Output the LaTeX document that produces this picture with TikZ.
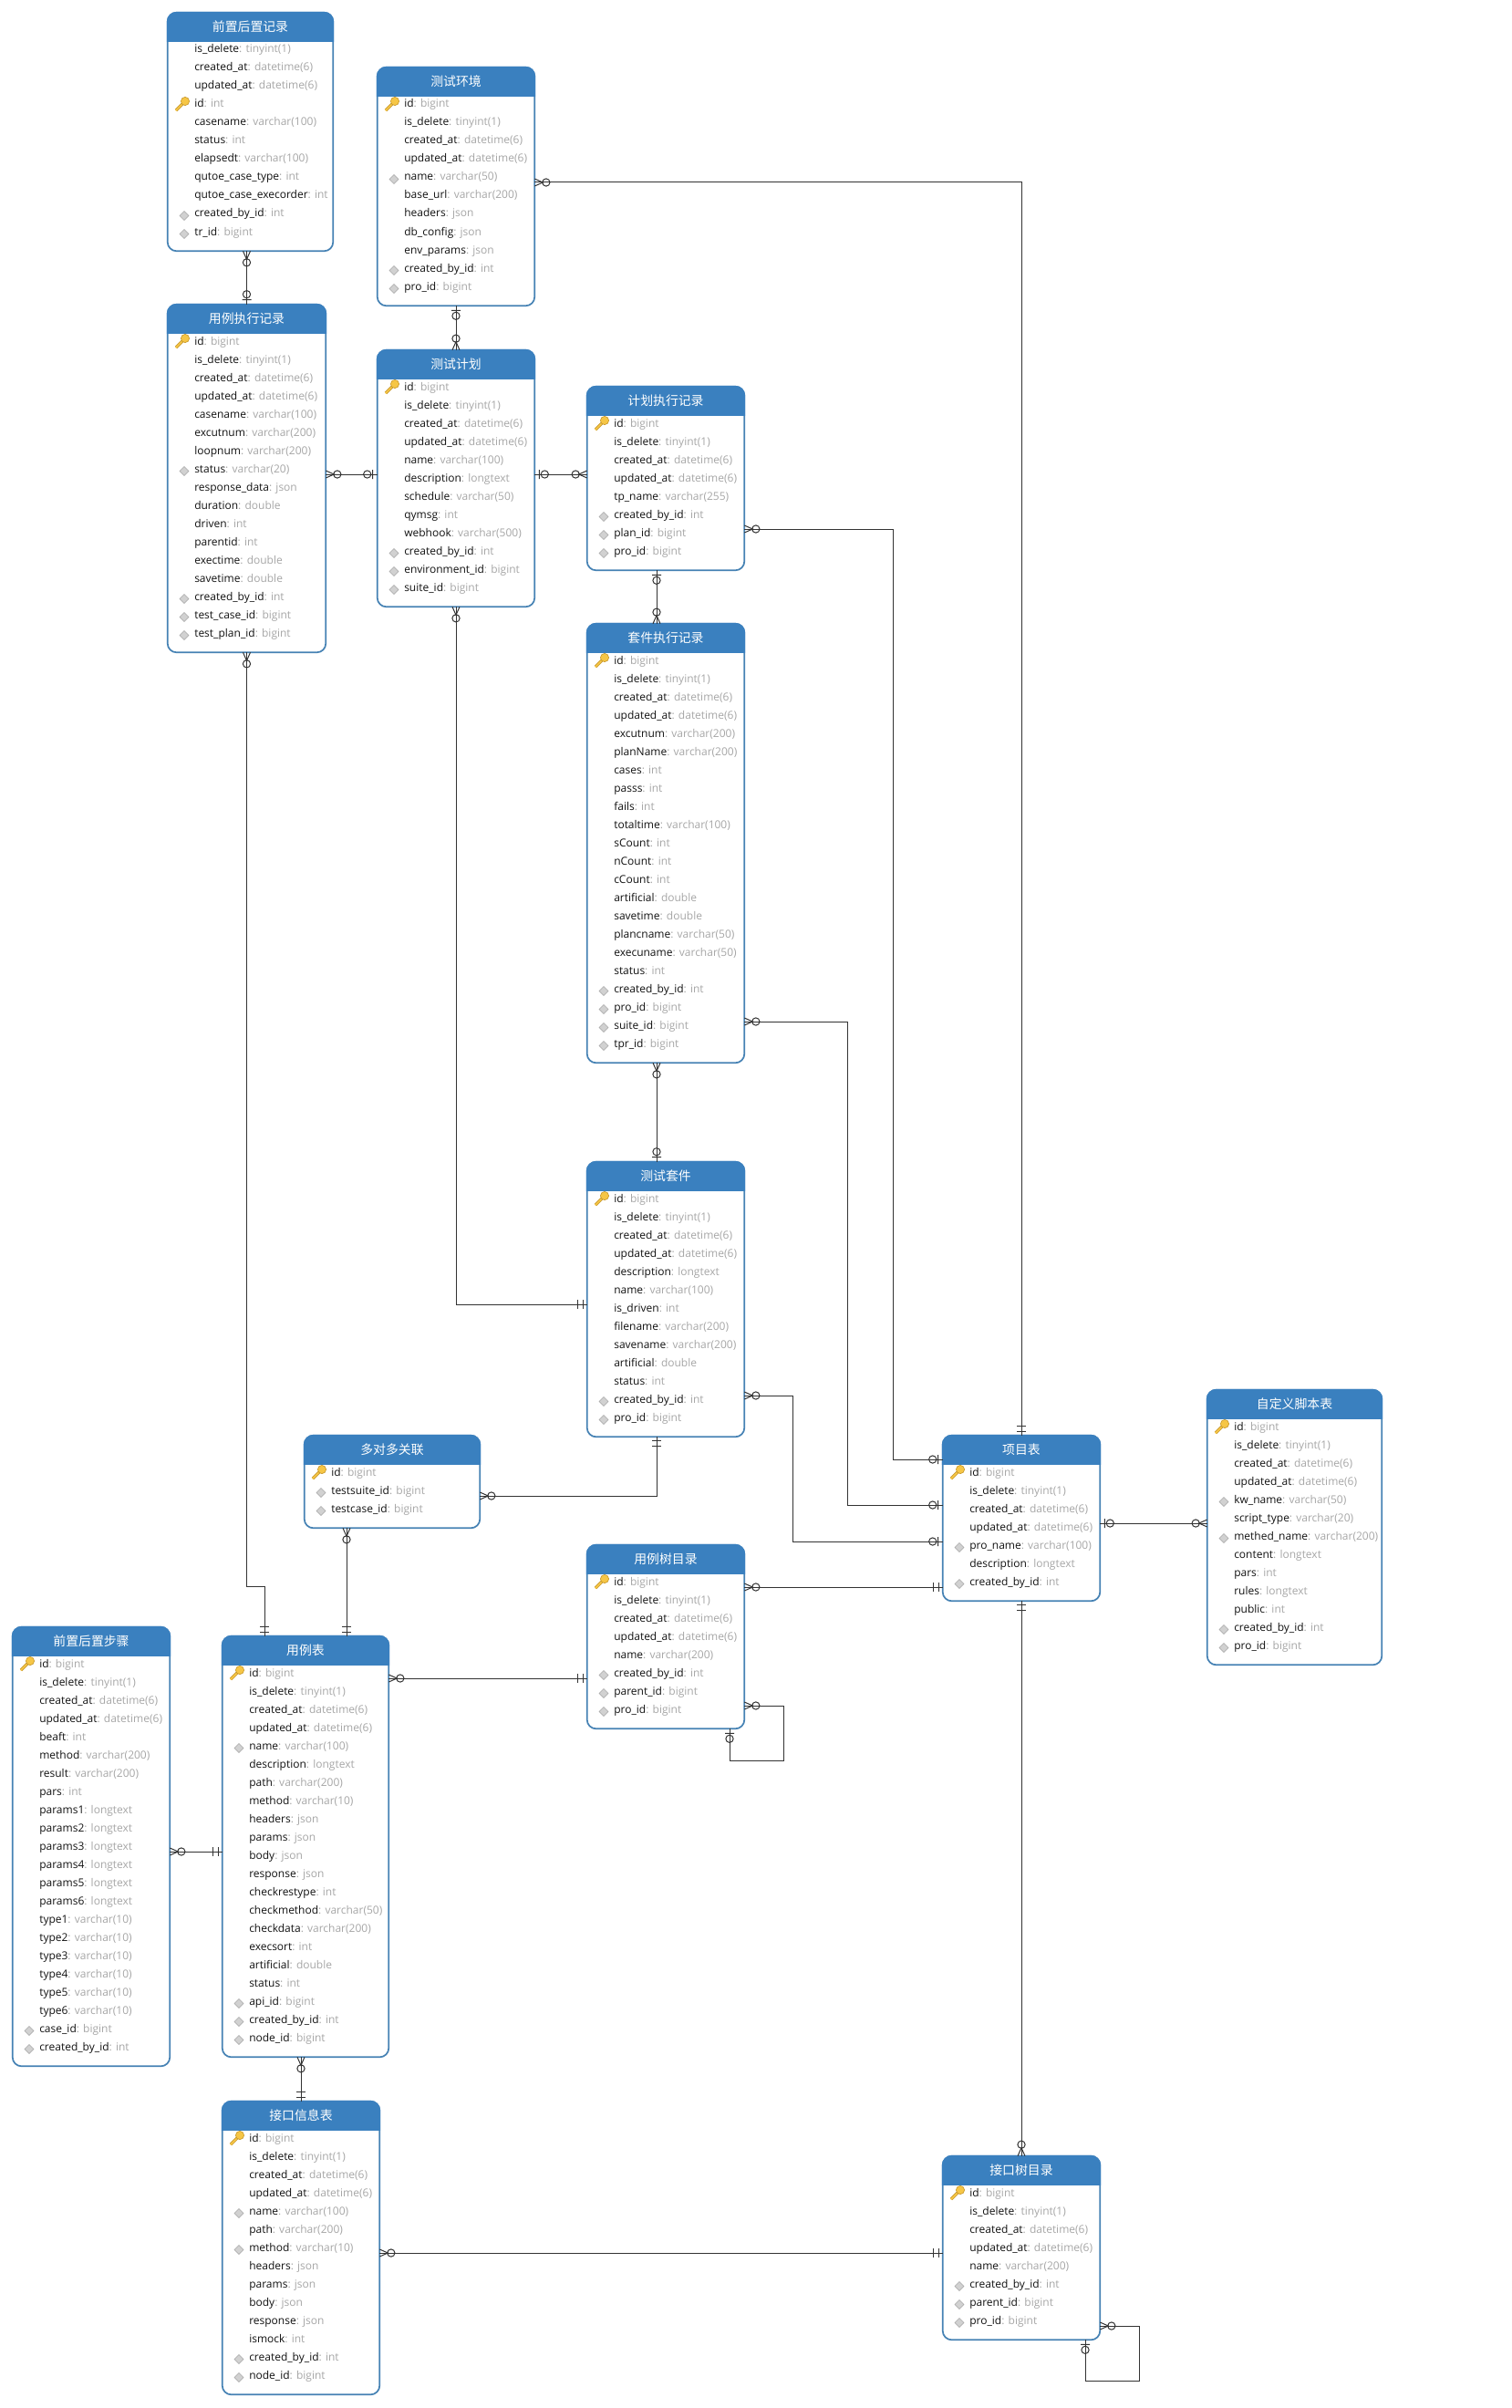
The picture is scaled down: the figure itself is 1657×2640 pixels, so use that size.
\documentclass[tikz,border=0pt]{standalone}
\usepackage{fontspec}
\usepackage{xcolor}
\usepackage{tikz}
\usetikzlibrary{calc}
\setmainfont{Open Sans}
\newfontfamily\cjk{Noto Sans CJK SC}
\definecolor{headcol}{HTML}{3A80BF}
\definecolor{bordercol}{HTML}{4682B4}
\definecolor{typecol}{HTML}{A6A6A6}
\definecolor{fieldcol}{HTML}{111111}
\definecolor{linecol}{HTML}{333333}
\definecolor{keygold}{HTML}{F6C646}
\definecolor{keyedge}{HTML}{C99A2E}

% crow's foot ends, tip on the table border
\pgfdeclarearrow{
    name=zmany,
    setup code={\pgfarrowssettipend{0pt}\pgfarrowssetlineend{0pt}\pgfarrowssetbackend{-13pt}},
    drawing code={
        \pgfpathmoveto{\pgfpoint{0pt}{3pt}}
        \pgfpathlineto{\pgfpoint{-6.75pt}{0pt}}
        \pgfpathlineto{\pgfpoint{0pt}{-3pt}}
        \pgfpathcircle{\pgfpoint{-9.4pt}{0pt}}{3.1pt}
        \pgfusepathqstroke
    }
}
\pgfdeclarearrow{
    name=zone,
    setup code={\pgfarrowssettipend{0pt}\pgfarrowssetlineend{0pt}\pgfarrowssetbackend{-12pt}},
    drawing code={
        \pgfpathmoveto{\pgfpoint{-3.75pt}{3.75pt}}
        \pgfpathlineto{\pgfpoint{-3.75pt}{-3.75pt}}
        \pgfpathcircle{\pgfpoint{-8.25pt}{0pt}}{3.1pt}
        \pgfusepathqstroke
    }
}
\pgfdeclarearrow{
    name=oneone,
    setup code={\pgfarrowssettipend{0pt}\pgfarrowssetlineend{0pt}\pgfarrowssetbackend{-9pt}},
    drawing code={
        \pgfpathmoveto{\pgfpoint{-3.2pt}{3.75pt}}
        \pgfpathlineto{\pgfpoint{-3.2pt}{-3.75pt}}
        \pgfpathmoveto{\pgfpoint{-8pt}{3.75pt}}
        \pgfpathlineto{\pgfpoint{-8pt}{-3.75pt}}
        \pgfusepathqstroke
    }
}

% name, x, y, width, number of rows, title, rows
\newcommand{\ertable}[7]{
    \node (#1) [tablebox,minimum width={(#4-1.4)*0.75pt},minimum height={(41.6+20*#5)*0.75pt}] at (#2+0.7,#3+0.7) {};
    \filldraw[headcol,line width=1.3pt] (#2+0.7,#3+32) [rounded corners=7.5pt] -- (#2+0.7,#3+0.7) -- (#2+#4-0.7,#3+0.7) [sharp corners] -- (#2+#4-0.7,#3+32) -- cycle;
    \node (#1-title) [tabletitle] at ($(#1.north)+(0,15.5)$) {#6};
    \foreach \fname/\ftype/\fmark [count=\i] in {#7} {
        \pic at (#2+16,#3+21+20*\i) {mk\fmark};
        \node (#1-\i) [fieldrow] at (#2+30,#3+25+20*\i) {\fname\textcolor{typecol}{: \ftype}};
    }
}

\begin{document}
\begin{tikzpicture}[
    x=0.75pt,y=-0.75pt,
    tablebox/.style={draw=bordercol,line width=1.3pt,rounded corners=7.5pt,anchor=north west,inner sep=0pt,outer sep=0pt},
    tabletitle/.style={text=white,inner sep=0pt,font=\cjk\fontsize{10.4}{12}\selectfont},
    fieldrow/.style={anchor=base west,inner sep=0pt,text=fieldcol,font=\fontsize{9}{10}\selectfont},
    rel/.style={draw=linecol,line width=0.75pt},
    mkn/.pic={},
    mkd/.pic={
        \filldraw[fill=black!18,draw=black!35,line width=0.4pt] (3,-2.5) -- (8,2.5) -- (3,7.5) -- (-2,2.5) -- cycle;
    },
    mkk/.pic={
        \draw[keyedge,line width=2.5pt] (2,-1) -- (-6,7);
        \draw[keygold,line width=1.3pt] (2,-1) -- (-6.3,7.3);
        \filldraw[fill=keygold,draw=keyedge,line width=0.5pt] (4,-3) circle[radius=4.6];
    },
]
    \useasboundingbox (0,0) rectangle (1657,2640);

    \ertable{prerec}{183}{13}{183}{11}{前置后置记录}{is\_delete/tinyint(1)/n,created\_at/datetime(6)/n,updated\_at/datetime(6)/n,id/int/k,casename/varchar(100)/n,status/int/n,elapsedt/varchar(100)/n,qutoe\_case\_type/int/n,qutoe\_case\_execorder/int/n,created\_by\_id/int/d,tr\_id/bigint/d}
    \ertable{caserec}{183}{333}{175}{17}{用例执行记录}{id/bigint/k,is\_delete/tinyint(1)/n,created\_at/datetime(6)/n,updated\_at/datetime(6)/n,casename/varchar(100)/n,excutnum/varchar(200)/n,loopnum/varchar(200)/n,status/varchar(20)/d,response\_data/json/n,duration/double/n,driven/int/n,parentid/int/n,exectime/double/n,savetime/double/n,created\_by\_id/int/d,test\_case\_id/bigint/d,test\_plan\_id/bigint/d}
    \ertable{env}{413}{73}{174}{11}{测试环境}{id/bigint/k,is\_delete/tinyint(1)/n,created\_at/datetime(6)/n,updated\_at/datetime(6)/n,name/varchar(50)/d,base\_url/varchar(200)/n,headers/json/n,db\_config/json/n,env\_params/json/n,created\_by\_id/int/d,pro\_id/bigint/d}
    \ertable{plan}{413}{383}{174}{12}{测试计划}{id/bigint/k,is\_delete/tinyint(1)/n,created\_at/datetime(6)/n,updated\_at/datetime(6)/n,name/varchar(100)/n,description/longtext/n,schedule/varchar(50)/n,qymsg/int/n,webhook/varchar(500)/n,created\_by\_id/int/d,environment\_id/bigint/d,suite\_id/bigint/d}
    \ertable{planrec}{643}{423}{174}{8}{计划执行记录}{id/bigint/k,is\_delete/tinyint(1)/n,created\_at/datetime(6)/n,updated\_at/datetime(6)/n,tp\_name/varchar(255)/n,created\_by\_id/int/d,plan\_id/bigint/d,pro\_id/bigint/d}
    \ertable{suiterec}{643}{683}{174}{22}{套件执行记录}{id/bigint/k,is\_delete/tinyint(1)/n,created\_at/datetime(6)/n,updated\_at/datetime(6)/n,excutnum/varchar(200)/n,planName/varchar(200)/n,cases/int/n,passs/int/n,fails/int/n,totaltime/varchar(100)/n,sCount/int/n,nCount/int/n,cCount/int/n,artificial/double/n,savetime/double/n,plancname/varchar(50)/n,execuname/varchar(50)/n,status/int/n,created\_by\_id/int/d,pro\_id/bigint/d,suite\_id/bigint/d,tpr\_id/bigint/d}
    \ertable{suite}{643}{1273}{174}{13}{测试套件}{id/bigint/k,is\_delete/tinyint(1)/n,created\_at/datetime(6)/n,updated\_at/datetime(6)/n,description/longtext/n,name/varchar(100)/n,is\_driven/int/n,filename/varchar(200)/n,savename/varchar(200)/n,artificial/double/n,status/int/n,created\_by\_id/int/d,pro\_id/bigint/d}
    \ertable{mtom}{333}{1573}{194}{3}{多对多关联}{id/bigint/k,testsuite\_id/bigint/d,testcase\_id/bigint/d}
    \ertable{project}{1033}{1573}{174}{7}{项目表}{id/bigint/k,is\_delete/tinyint(1)/n,created\_at/datetime(6)/n,updated\_at/datetime(6)/n,pro\_name/varchar(100)/d,description/longtext/n,created\_by\_id/int/d}
    \ertable{script}{1323}{1523}{193}{13}{自定义脚本表}{id/bigint/k,is\_delete/tinyint(1)/n,created\_at/datetime(6)/n,updated\_at/datetime(6)/n,kw\_name/varchar(50)/d,script\_type/varchar(20)/n,methed\_name/varchar(200)/d,content/longtext/n,pars/int/n,rules/longtext/n,public/int/n,created\_by\_id/int/d,pro\_id/bigint/d}
    \ertable{casetree}{643}{1693}{174}{8}{用例树目录}{id/bigint/k,is\_delete/tinyint(1)/n,created\_at/datetime(6)/n,updated\_at/datetime(6)/n,name/varchar(200)/n,created\_by\_id/int/d,parent\_id/bigint/d,pro\_id/bigint/d}
    \ertable{casetab}{243}{1793}{184}{21}{用例表}{id/bigint/k,is\_delete/tinyint(1)/n,created\_at/datetime(6)/n,updated\_at/datetime(6)/n,name/varchar(100)/d,description/longtext/n,path/varchar(200)/n,method/varchar(10)/n,headers/json/n,params/json/n,body/json/n,response/json/n,checkrestype/int/n,checkmethod/varchar(50)/n,checkdata/varchar(200)/n,execsort/int/n,artificial/double/n,status/int/n,api\_id/bigint/d,created\_by\_id/int/d,node\_id/bigint/d}
    \ertable{prestep}{13}{1783}{174}{22}{前置后置步骤}{id/bigint/k,is\_delete/tinyint(1)/n,created\_at/datetime(6)/n,updated\_at/datetime(6)/n,beaft/int/n,method/varchar(200)/n,result/varchar(200)/n,pars/int/n,params1/longtext/n,params2/longtext/n,params3/longtext/n,params4/longtext/n,params5/longtext/n,params6/longtext/n,type1/varchar(10)/n,type2/varchar(10)/n,type3/varchar(10)/n,type4/varchar(10)/n,type5/varchar(10)/n,type6/varchar(10)/n,case\_id/bigint/d,created\_by\_id/int/d}
    \ertable{apiinfo}{243}{2303}{174}{14}{接口信息表}{id/bigint/k,is\_delete/tinyint(1)/n,created\_at/datetime(6)/n,updated\_at/datetime(6)/n,name/varchar(100)/d,path/varchar(200)/n,method/varchar(10)/d,headers/json/n,params/json/n,body/json/n,response/json/n,ismock/int/n,created\_by\_id/int/d,node\_id/bigint/d}
    \ertable{apitree}{1033}{2363}{174}{8}{接口树目录}{id/bigint/k,is\_delete/tinyint(1)/n,created\_at/datetime(6)/n,updated\_at/datetime(6)/n,name/varchar(200)/n,created\_by\_id/int/d,parent\_id/bigint/d,pro\_id/bigint/d}

    \draw[rel,arrows={zmany-zone}] (caserec.north |- prerec.south) -- (caserec.north);
    \draw[rel,arrows={zone-zmany}] (env.south) -- (plan.north);
    \draw[rel,arrows={zmany-oneone}] ($(env.east)+(0,-4.5)$) -| (project.north);
    \draw[rel,arrows={zmany-zone}] ($(caserec.east)+(0,-4.5)$) -- ($(plan.west)+(0,-4.5)$);
    \draw[rel,arrows={zone-zmany}] ($(plan.east)+(0,-4.5)$) -- ($(planrec.west)+(0,-4.5)$);
    \draw[rel,arrows={zmany-zone}] ($(planrec.east)+(0,55.5)$) -- ++(163,0) |- ($(project.west)+(0,-64.5)$);
    \draw[rel,arrows={zone-zmany}] ($(planrec.south)+(-10,0)$) -- ($(suiterec.north)+(-10,0)$);
    \draw[rel,arrows={zmany-zone}] ($(suiterec.east)+(0,195.5)$) -- ++(113,0) |- ($(project.west)+(0,-14.5)$);
    \draw[rel,arrows={zmany-zone}] ($(suiterec.south)+(-10,0)$) -- ($(suite.north)+(-10,0)$);
    \draw[rel,arrows={zmany-oneone}] (plan.south) |- ($(suite.west)+(0,5.5)$);
    \draw[rel,arrows={zmany-zone}] ($(suite.east)+(0,105.5)$) -- ++(53,0) |- ($(project.west)+(0,25.5)$);
    \draw[rel,arrows={oneone-zmany}] ($(suite.south)+(-10,0)$) |- ($(mtom.east)+(0,15.5)$);
    \draw[rel,arrows={zmany-oneone}] ($(mtom.south)+(-50,0)$) -- ($(casetab.north)+(45,0)$);
    \draw[rel,arrows={zmany-oneone}] (caserec.south) -- ++(0,1024) -| ($(casetab.north)+(-45,0)$);
    \draw[rel,arrows={zmany-oneone}] ($(casetree.east)+(0,-54.5)$) -- ($(project.west)+(0,75.5)$);
    \draw[rel,arrows={zmany-oneone}] ($(casetab.east)+(0,-184.5)$) -- ($(casetree.west)+(0,45.5)$);
    \draw[rel,arrows={zmany-zone}] ($(casetree.east)+(0,75.5)$) -- ++(43,0) -- ++(0,60) -| ($(casetree.south)+(70,0)$);
    \draw[rel,arrows={zmany-oneone}] ($(prestep.east)+(0,5.5)$) -- ($(casetab.west)+(0,5.5)$);
    \draw[rel,arrows={zmany-oneone}] ($(casetab.south)+(-5,0)$) -- (apiinfo.north);
    \draw[rel,arrows={zmany-oneone}] ($(apiinfo.east)+(0,5.5)$) -- ($(apitree.west)+(0,5.5)$);
    \draw[rel,arrows={oneone-zmany}] (project.south) -- (apitree.north);
    \draw[rel,arrows={zone-zmany}] ($(project.east)+(0,5.5)$) -- ($(script.west)+(0,-4.5)$);
    \draw[rel,arrows={zmany-zone}] ($(apitree.east)+(0,85.5)$) -- ++(43,0) -- ++(0,60) -| ($(apitree.south)+(70,0)$);
\end{tikzpicture}
\end{document}
